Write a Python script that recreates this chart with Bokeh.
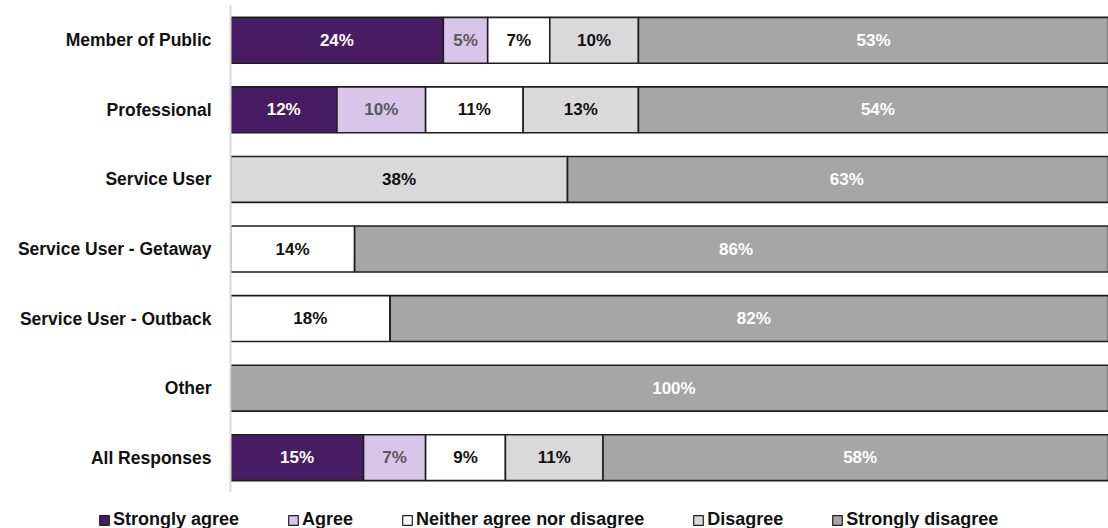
from bokeh.plotting import figure
from bokeh.layouts import column
from bokeh.models import ColumnDataSource, Range1d, FactorRange, Legend, LegendItem
from bokeh.core.properties import value
from bokeh.embed import file_html
from bokeh.resources import INLINE

categories = ["Member of Public", "Professional", "Service User",
              "Service User - Getaway", "Service User - Outback", "Other",
              "All Responses"]
series_names = ["Strongly agree", "Agree", "Neither agree nor disagree",
                "Disagree", "Strongly disagree"]
strongly_agree = [24, 12, 0, 0, 0, 0, 15]
agree = [5, 10, 0, 0, 0, 0, 7]
neither = [7, 11, 0, 14, 18, 0, 9]
disagree = [10, 13, 38, 0, 0, 0, 11]
strongly_disagree = [53, 54, 63, 86, 82, 100, 58]

series = [strongly_agree, agree, neither, disagree, strongly_disagree]
colors = ["#481C62", "#D9C4EA", "#FFFFFF", "#D9D9D9", "#A6A6A6"]
label_colors = ["#FFFFFF", "#595959", "#111111", "#111111", "#FFFFFF"]
keys = ["sa", "a", "n", "d", "sd"]

FONT = "Liberation Sans"
EDGE = "#1E1E1E"

data = {"cat": categories}
for k, s in zip(keys, series):
    data[k] = s
source = ColumnDataSource(data)

p = figure(width=1108, height=492,
           y_range=FactorRange(factors=categories[::-1], range_padding=0,
                               range_padding_units="absolute"),
           x_range=Range1d(0, 99),
           x_axis_location=None,
           output_backend="svg", toolbar_location=None,
           min_border_left=230, min_border_right=0,
           min_border_top=5, min_border_bottom=0)

p.hbar_stack(keys, y="cat", height=0.66, color=colors, source=source,
             line_color=EDGE, line_width=1.6)

# segment labels
lx, ly, lt, lc = [], [], [], []
for i, cat in enumerate(categories):
    left = 0
    for j, s in enumerate(series):
        v = s[i]
        if v > 0:
            lx.append(left + v / 2)
            ly.append(cat)
            lt.append(f"{v}%")
            lc.append(label_colors[j])
        left += v
lab_src = ColumnDataSource(dict(x=lx, y=ly, text=lt, color=lc))
p.text(x="x", y="y", text="text", source=lab_src, text_color="color",
       text_align="center", text_baseline="middle",
       text_font=value(FONT), text_font_style="bold", text_font_size="17px")

p.xgrid.visible = False
p.ygrid.visible = False
p.outline_line_color = None

yax = p.yaxis[0]
yax.axis_line_color = "#D9D9D9"
yax.axis_line_width = 2
yax.major_tick_line_color = None
yax.minor_tick_line_color = None
yax.major_label_standoff = 13
yax.major_label_text_font = FONT
yax.major_label_text_font_style = "bold"
yax.major_label_text_font_size = "17.5px"
yax.major_label_text_color = "#111111"

# legend strip below the chart (proxy glyphs kept outside the visible range)
lg = figure(width=1108, height=36, x_range=Range1d(0, 1), y_range=Range1d(0, 1),
            x_axis_location=None, y_axis_location=None,
            output_backend="svg", toolbar_location=None,
            min_border_left=0, min_border_right=0,
            min_border_top=0, min_border_bottom=0)
lg.frame_align = False
lg.xgrid.visible = False
lg.ygrid.visible = False
lg.outline_line_color = None
items = []
for name, c in zip(series_names, colors):
    r = lg.hbar(y=[-10], left=[0], right=[1], height=0.5, fill_color=c,
                line_color=EDGE, line_width=1.2)
    items.append(LegendItem(label=name, renderers=[r]))

leg = Legend(items=items)
leg.orientation = "horizontal"
leg.location = (98, -2)
leg.padding = 0
leg.margin = 0
leg.spacing = 48
leg.glyph_width = 12
leg.glyph_height = 12
leg.label_standoff = 3
leg.label_text_font = FONT
leg.label_text_font_style = "bold"
leg.label_text_font_size = "18px"
leg.label_text_color = "#111111"
leg.border_line_color = None
leg.background_fill_alpha = 0
lg.add_layout(leg, "center")

layout = column(p, lg, spacing=0)
open("out.html", "w").write(file_html(layout, INLINE))
